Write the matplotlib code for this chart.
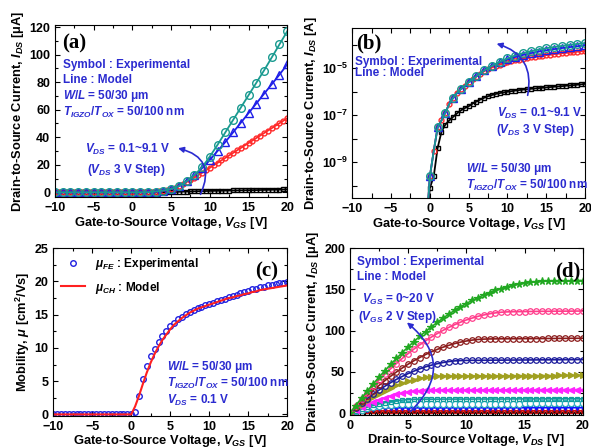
import numpy as np
import matplotlib
matplotlib.use("Agg")
import matplotlib.pyplot as plt
from matplotlib.ticker import MultipleLocator

plt.rcParams["font.family"] = ["Liberation Sans", "DejaVu Sans"]
plt.rcParams["font.weight"] = "bold"
plt.rcParams["axes.labelweight"] = "bold"
plt.rcParams["mathtext.fontset"] = "custom"
plt.rcParams["mathtext.rm"] = "Liberation Sans:bold"
plt.rcParams["mathtext.it"] = "Liberation Sans:italic:bold"
plt.rcParams["mathtext.bf"] = "Liberation Sans:bold"

# ---- transfer curves (a), (b): I_DS in uA vs V_GS (0.5 V step) ----
vgs = np.arange(-10, 20.5, 0.5)
ids_off = [1e-6, 1e-6, 1e-6, 1e-6, 1e-6, 1e-6, 1e-6, 1e-6, 1e-6, 1e-6,
           1e-6, 1e-6, 1e-6, 1e-6, 1e-6, 1e-6, 1e-6, 1e-6, 1e-6, 1e-6]
ids_vds01 = ids_off + [8e-5, 2.5e-4, 4e-3, 0.02, 0.04, 0.06, 0.085, 0.12, 0.16, 0.2,
                       0.24, 0.31, 0.38, 0.46, 0.55, 0.64, 0.72, 0.8, 0.87, 0.93,
                       0.99, 1.05, 1.11, 1.17, 1.22, 1.27, 1.32, 1.37, 1.42, 1.47,
                       1.52, 1.57, 1.62, 1.67, 1.72, 1.78, 1.84, 1.9, 1.97, 2.05, 2.15]
ids_vds31 = ids_off + [2.5e-4, 3e-3, 0.03, 0.06, 0.13, 0.3, 0.55, 0.9, 1.3, 1.8,
                       2.5, 3.4, 4.4, 5.8, 7.4, 9.0, 10.7, 12.4, 14.2, 16.0,
                       17.8, 19.6, 21.4, 23.2, 25.0, 26.8, 28.6, 30.4, 32.2, 34.0,
                       35.8, 37.6, 39.4, 41.2, 43.0, 44.8, 46.6, 48.4, 50.2, 52.0, 53.8]
ids_vds61 = ids_off + [2.5e-4, 3e-3, 0.03, 0.06, 0.13, 0.3, 0.55, 0.9, 1.3, 1.8,
                       2.5, 3.4, 4.5, 6.1, 8.0, 10.1, 12.5, 14.8, 17.5, 20.5,
                       23.5, 26.8, 30.0, 33.2, 36.5, 40.0, 43.5, 47.0, 50.5, 54.0,
                       57.5, 61.0, 64.5, 68.0, 71.5, 75.0, 78.5, 82.0, 85.5, 89.2, 93.0]
ids_vds91 = ids_off + [2.5e-4, 3e-3, 0.03, 0.06, 0.13, 0.3, 0.55, 0.9, 1.3, 1.8,
                       2.5, 3.4, 4.5, 6.1, 8.0, 10.1, 12.5, 15.3, 18.5, 22.0,
                       26.0, 30.2, 34.5, 39.0, 43.5, 48.0, 52.5, 57.0, 61.5, 66.0,
                       70.5, 75.0, 79.5, 84.0, 88.5, 93.2, 98.0, 102.7, 107.5, 112.2, 117.0]

# ---- mobility (c) ----
mu_off = [0, 0, 0, 0, 0, 0, 0, 0, 0, 0, 0, 0, 0, 0, 0, 0, 0, 0, 0, 0]
mu_fe = mu_off + [0.0, 0.3, 2.8, 5.3, 7.3, 8.8, 9.9, 10.9, 11.8, 12.6,
                  13.3, 13.8, 14.3, 14.7, 15.1, 15.4, 15.7, 16.0, 16.2, 16.4,
                  16.6, 16.8, 17.0, 17.2, 17.4, 17.6, 17.8, 18.0, 18.2, 18.4,
                  18.6, 18.8, 18.9, 19.1, 19.2, 19.4, 19.5, 19.6, 19.7, 19.8, 19.9]
mu_ch = mu_off + [0.0, 1.2, 2.8, 4.6, 6.3, 7.8, 9.1, 10.2, 11.2, 12.0,
                  12.8, 13.5, 14.0, 14.5, 14.9, 15.3, 15.6, 15.9, 16.1, 16.3,
                  16.5, 16.7, 16.9, 17.1, 17.3, 17.5, 17.6, 17.8, 17.9, 18.1,
                  18.2, 18.4, 18.5, 18.7, 18.8, 18.9, 19.0, 19.1, 19.2, 19.3, 19.4]

# ---- output curves (d): I_DS in uA vs V_DS (0.5 V step) ----
vds = np.arange(0, 20.5, 0.5)
out_vgs20 = [0, 9.3, 18.3, 27.0, 35.4, 43.6, 51.5, 59.1, 66.4, 73.5, 80.3, 86.8, 93.0, 99.0,
             104.6, 110.0, 115.2, 120.0, 124.6, 128.9, 132.9, 136.6, 140.1, 143.3, 146.2,
             148.8, 151.1, 153.2, 155.0, 156.5, 157.8, 158.8, 159.4, 159.9, 160.0, 160.2,
             160.3, 160.4, 160.5, 160.6, 160.7]
out_vgs18 = [0, 8.6, 17.0, 24.9, 32.6, 40.0, 47.1, 53.8, 60.2, 66.4, 72.2, 77.7, 82.8, 87.7,
             92.3, 96.5, 100.4, 104.0, 107.3, 110.3, 113.0, 115.3, 117.4, 119.1, 120.5, 121.6,
             122.4, 122.8, 123.0, 123.1, 123.2, 123.3, 123.4, 123.5, 123.5, 123.6, 123.6,
             123.7, 123.7, 123.8, 123.8]
out_vgs16 = [0, 7.3, 14.4, 21.1, 27.5, 33.6, 39.4, 44.8, 50.0, 54.8, 59.4, 63.6, 67.5, 71.1,
             74.4, 77.3, 80.0, 82.3, 84.4, 86.1, 87.5, 88.6, 89.4, 89.8, 90.0, 90.1, 90.2,
             90.2, 90.3, 90.3, 90.4, 90.4, 90.5, 90.5, 90.6, 90.6, 90.7, 90.7, 90.8, 90.8, 90.9]
out_vgs14 = [0, 6.2, 12.2, 17.8, 23.0, 28.0, 32.6, 37.0, 41.0, 44.6, 48.0, 51.0, 53.8, 56.2,
             58.2, 60.0, 61.4, 62.6, 63.4, 63.8, 64.0, 64.1, 64.1, 64.2, 64.2, 64.3, 64.3,
             64.4, 64.4, 64.5, 64.5, 64.6, 64.6, 64.7, 64.7, 64.8, 64.8, 64.9, 64.9, 65.0, 65.0]
out_vgs12 = [0, 5.4, 10.5, 15.3, 19.7, 23.7, 27.4, 30.8, 33.8, 36.4, 38.7, 40.6, 42.2, 43.4,
             44.3, 44.8, 45.0, 45.0, 45.1, 45.1, 45.1, 45.2, 45.2, 45.2, 45.3, 45.3, 45.3,
             45.4, 45.4, 45.4, 45.5, 45.5, 45.5, 45.6, 45.6, 45.6, 45.7, 45.7, 45.7, 45.8, 45.8]
out_vgs10 = [0, 3.9, 7.4, 10.7, 13.7, 16.4, 18.9, 21.0, 22.9, 24.4, 25.7, 26.7, 27.4, 27.9,
             28.0, 28.0, 28.0, 28.1, 28.1, 28.1, 28.1, 28.2, 28.2, 28.2, 28.2, 28.3, 28.3,
             28.3, 28.3, 28.4, 28.4, 28.4, 28.4, 28.5, 28.5, 28.5, 28.5, 28.6, 28.6, 28.6, 28.6]
out_vgs8 = [0, 2.7, 5.2, 7.4, 9.4, 11.2, 12.8, 14.0, 15.1, 15.9, 16.5, 16.9, 17.0, 17.0,
            17.0, 17.0, 17.1, 17.1, 17.1, 17.1, 17.1, 17.1, 17.2, 17.2, 17.2, 17.2, 17.2,
            17.2, 17.3, 17.3, 17.3, 17.3, 17.3, 17.3, 17.4, 17.4, 17.4, 17.4, 17.4, 17.4, 17.4]
out_vgs6 = [0, 2.2, 4.1, 5.9, 7.4, 8.6, 9.7, 10.5, 11.0, 11.4, 11.5, 11.5, 11.5, 11.5,
            11.5, 11.6, 11.6, 11.6, 11.6, 11.6, 11.6, 11.6, 11.7, 11.7, 11.7, 11.7, 11.7,
            11.7, 11.7, 11.7, 11.8, 11.8, 11.8, 11.8, 11.8, 11.8, 11.8, 11.8, 11.8, 11.9, 11.9]
out_vgs4 = [0, 1.7, 3.2, 4.4, 5.3, 6.0, 6.4, 6.5, 6.5, 6.5, 6.5, 6.5, 6.5, 6.5,
            6.5, 6.5, 6.5, 6.5, 6.6, 6.6, 6.6, 6.6, 6.6, 6.6, 6.6, 6.6, 6.6,
            6.6, 6.6, 6.6, 6.7, 6.7, 6.7, 6.7, 6.7, 6.7, 6.7, 6.7, 6.7, 6.7, 6.7]
out_vgs2 = [0, 1.2, 2.1, 2.6, 2.8, 2.8, 2.8, 2.8, 2.8, 2.8, 2.8, 2.8, 2.8, 2.8,
            2.8, 2.8, 2.8, 2.8, 2.8, 2.8, 2.8, 2.8, 2.8, 2.9, 2.9, 2.9, 2.9,
            2.9, 2.9, 2.9, 2.9, 2.9, 2.9, 2.9, 2.9, 2.9, 2.9, 2.9, 2.9, 2.9, 2.9]
out_vgs0 = [0, 0.1, 0.2, 0.2, 0.3, 0.3, 0.3, 0.3, 0.3, 0.3, 0.3, 0.3, 0.3, 0.3,
            0.3, 0.3, 0.3, 0.3, 0.3, 0.3, 0.3, 0.3, 0.3, 0.3, 0.3, 0.3, 0.3,
            0.3, 0.3, 0.3, 0.3, 0.3, 0.3, 0.3, 0.3, 0.3, 0.3, 0.3, 0.3, 0.3, 0.3]

BLUE_TXT = "#2b2bd0"
transfer = [
    (ids_vds01, "#000000", "s", 3.5, 1),
    (ids_vds31, "#ff2a2a", "o", 3.5, 1),
    (ids_vds61, "#1f1fe8", "^", 6, 2),
    (ids_vds91, "#1a9a90", "o", 5.5, 2),
]
output = [
    (out_vgs0, "#000000", "s", 3, "none"),
    (out_vgs2, "#d01010", "o", 3, "none"),
    (out_vgs4, "#1010ff", "v", 3, "#1010ff"),
    (out_vgs6, "#30b0c0", "o", 4.5, "white"),
    (out_vgs8, "#109c9c", "s", 3.5, "none"),
    (out_vgs10, "#ff22ff", "<", 4, "#ff22ff"),
    (out_vgs12, "#a0a020", ">", 4, "#a0a020"),
    (out_vgs14, "#1c1c9c", "o", 4, "none"),
    (out_vgs16, "#8b1c1c", "o", 4, "none"),
    (out_vgs18, "#ff3d8b", "o", 4, "none"),
    (out_vgs20, "#22a822", "*", 5.5, "#22a822"),
]


def style(ax):
    ax.tick_params(which="both", direction="in", top=True, right=True,
                   labelsize=9, width=0.8)
    ax.tick_params(which="major", length=3.5)
    ax.tick_params(which="minor", length=2)
    for s in ax.spines.values():
        s.set_linewidth(0.8)


def panel_label(ax, x, y, txt, ha="left"):
    ax.text(x, y, txt, transform=ax.transAxes, ha=ha, va="top",
            family="Liberation Serif", fontsize=15, weight="bold")


def blue_text(ax, x, y, txt, ha="left"):
    ax.text(x, y, txt, transform=ax.transAxes, ha=ha, va="center",
            color=BLUE_TXT, fontsize=8.5, weight="bold")


fig = plt.figure(figsize=(5.91, 4.48), dpi=100)
ax_a = fig.add_axes([0.093, 0.560, 0.393, 0.384])
ax_b = fig.add_axes([0.596, 0.558, 0.394, 0.379])
ax_c = fig.add_axes([0.090, 0.072, 0.396, 0.374])
ax_d = fig.add_axes([0.592, 0.074, 0.394, 0.372])

xlabel_gs = "Gate-to-Source Voltage, $V_{GS}$ [V]"

# (a) linear transfer
for ids, col, mk, ms, every in transfer:
    ax_a.plot(vgs, ids, color=col, lw=1.3, marker=mk, ms=ms, mfc="none",
              mew=1.0, markevery=every)
ax_a.set_xlim(-10, 20)
ax_a.set_ylim(-3.5, 121.5)
ax_a.xaxis.set_major_locator(MultipleLocator(5))
ax_a.xaxis.set_minor_locator(MultipleLocator(2.5))
ax_a.yaxis.set_major_locator(MultipleLocator(20))
ax_a.yaxis.set_minor_locator(MultipleLocator(10))
ax_a.set_xlabel(xlabel_gs, fontsize=9.3, labelpad=1)
ax_a.set_ylabel("Drain-to-Source Current, $I_{DS}$ [μA]", fontsize=9.3, labelpad=2)
style(ax_a)
panel_label(ax_a, 0.03, 0.95, "(a)")
blue_text(ax_a, 0.035, 0.767, "Symbol : Experimental")
blue_text(ax_a, 0.035, 0.68, "Line : Model")
blue_text(ax_a, 0.035, 0.585, "$W/L$ = 50/30 μm")
blue_text(ax_a, 0.035, 0.494, "$T_{IGZO}/T_{OX}$ = 50/100 nm")
blue_text(ax_a, 0.13, 0.278, "$V_{DS}$ = 0.1~9.1 V")
blue_text(ax_a, 0.14, 0.155, "($V_{DS}$ 3 V Step)")
ax_a.annotate("", xy=(5.9, 32), xytext=(8.8, -1.5),
              arrowprops=dict(arrowstyle="-|>", color=BLUE_TXT, lw=1.2,
                              mutation_scale=8, shrinkA=0, shrinkB=0,
                              connectionstyle="arc3,rad=0.6"))

# (b) log transfer
for ids, col, mk, ms, every in transfer:
    ax_b.plot(vgs, np.array(ids) * 1e-6, color=col, lw=1.3, marker=mk, ms=ms,
              mfc="none", mew=1.0, markevery=every)
ax_b.set_yscale("log")
ax_b.set_xlim(-10, 20)
ax_b.set_ylim(3e-11, 5e-4)
ax_b.set_yticks([1e-9, 1e-7, 1e-5], ["$10^{-9}$", "$10^{-7}$", "$10^{-5}$"])
ax_b.set_yticks([1e-10, 1e-8, 1e-6, 1e-4], minor=True)
ax_b.yaxis.set_minor_formatter(plt.NullFormatter())
ax_b.xaxis.set_major_locator(MultipleLocator(5))
ax_b.xaxis.set_minor_locator(MultipleLocator(2.5))
ax_b.set_xlabel(xlabel_gs, fontsize=9.3, labelpad=1)
ax_b.set_ylabel("Drain-to-Source Current, $I_{DS}$ [A]", fontsize=9.3, labelpad=2)
style(ax_b)
ax_b.tick_params(which="minor", length=3.5)
panel_label(ax_b, 0.015, 0.97, "(b)")
blue_text(ax_b, 0.012, 0.80, "Symbol : Experimental")
blue_text(ax_b, 0.012, 0.735, "Line : Model")
blue_text(ax_b, 0.99, 0.50, "$V_{DS}$ = 0.1~9.1 V", ha="right")
blue_text(ax_b, 0.955, 0.40, "($V_{DS}$ 3 V Step)", ha="right")
blue_text(ax_b, 0.49, 0.17, "$W/L$ = 50/30 μm")
blue_text(ax_b, 0.49, 0.075, "$T_{IGZO}/T_{OX}$ = 50/100 nm")
ax_b.annotate("", xy=(8.6, 1.1e-4), xytext=(12.6, 7e-7),
              arrowprops=dict(arrowstyle="-|>", color=BLUE_TXT, lw=1.2,
                              mutation_scale=8, shrinkA=0, shrinkB=0,
                              connectionstyle="arc3,rad=0.45"))

# (c) mobility
ax_c.plot(vgs, mu_fe, ls="none", marker="o", ms=4, mfc="none", mec="#2020e0",
          mew=1.0, label="$\\mu_{FE}$ : Experimental")
ax_c.plot(vgs, mu_ch, color="#ff2020", lw=1.5, label="$\\mu_{CH}$ : Model")
ax_c.set_xlim(-10, 20)
ax_c.set_ylim(-0.2, 25)
ax_c.xaxis.set_major_locator(MultipleLocator(5))
ax_c.xaxis.set_minor_locator(MultipleLocator(2.5))
ax_c.yaxis.set_major_locator(MultipleLocator(5))
ax_c.yaxis.set_minor_locator(MultipleLocator(2.5))
ax_c.set_xlabel(xlabel_gs, fontsize=9.3, labelpad=0)
ax_c.set_ylabel("Mobility, $\\mu$ [cm$^2$/Vs]", fontsize=9.3, labelpad=2)
style(ax_c)
ax_c.legend(loc="upper left", frameon=False, fontsize=8.5, numpoints=1,
            handlelength=2.0, borderaxespad=0.3, labelspacing=0.6)
panel_label(ax_c, 0.96, 0.92, "(c)", ha="right")
blue_text(ax_c, 0.487, 0.29, "$W/L$ = 50/30 μm")
blue_text(ax_c, 0.487, 0.19, "$T_{IGZO}/T_{OX}$ = 50/100 nm")
blue_text(ax_c, 0.487, 0.09, "$V_{DS}$ = 0.1 V")

# (d) output
for ids, col, mk, ms, mfc in output:
    ax_d.plot(vds, ids, color=col, lw=1.2, marker=mk, ms=ms, mfc=mfc, mew=0.9)
ax_d.set_xlim(0, 20)
ax_d.set_ylim(-2, 200)
ax_d.xaxis.set_major_locator(MultipleLocator(5))
ax_d.xaxis.set_minor_locator(MultipleLocator(2.5))
ax_d.yaxis.set_major_locator(MultipleLocator(50))
ax_d.yaxis.set_minor_locator(MultipleLocator(25))
ax_d.set_xlabel("Drain-to-Source Voltage, $V_{DS}$ [V]", fontsize=9.3, labelpad=0)
ax_d.set_ylabel("Drain-to-Source Current, $I_{DS}$ [μA]", fontsize=9.3, labelpad=2)
style(ax_d)
panel_label(ax_d, 0.99, 0.92, "(d)", ha="right")
blue_text(ax_d, 0.03, 0.916, "Symbol : Experimental")
blue_text(ax_d, 0.03, 0.826, "Line : Model")
blue_text(ax_d, 0.05, 0.69, "$V_{GS}$ = 0~20 V")
blue_text(ax_d, 0.035, 0.59, "($V_{GS}$ 2 V Step)")
ax_d.annotate("", xy=(4.9, 110), xytext=(5.2, 2),
              arrowprops=dict(arrowstyle="-|>", color=BLUE_TXT, lw=1.2,
                              mutation_scale=8, shrinkA=0, shrinkB=0,
                              connectionstyle="arc3,rad=0.55"))

fig.savefig("out.png", dpi=100, facecolor="white")
